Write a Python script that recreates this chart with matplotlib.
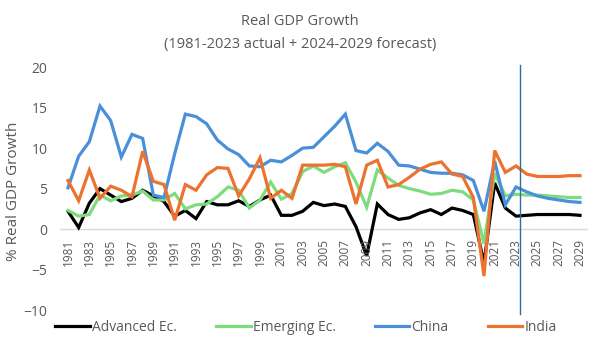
import numpy as np
import matplotlib.pyplot as plt

plt.rcParams['font.family'] = ['Open Sans', 'DejaVu Sans']

years = np.arange(1981, 2030)

advanced = [2.2, 0.2, 3.2, 5.0, 4.2, 3.4, 3.8, 4.8, 4.1, 3.4, 1.6, 2.3, 1.3, 3.4, 3.0,
            3.0, 3.5, 2.8, 3.6, 4.2, 1.7, 1.7, 2.2, 3.3, 2.9, 3.1, 2.8, 0.3, -3.3, 3.1,
            1.8, 1.2, 1.4, 2.0, 2.4, 1.8, 2.6, 2.3, 1.8, -4.2, 5.7, 2.6, 1.6, 1.7, 1.8,
            1.8, 1.8, 1.8, 1.7]
emerging = [2.3, 1.6, 1.8, 4.2, 3.5, 4.1, 4.2, 4.7, 3.6, 3.6, 4.4, 2.5, 3.0, 3.1, 4.0,
            5.2, 4.8, 2.6, 3.6, 5.8, 3.7, 4.4, 7.1, 7.8, 7.0, 7.7, 8.2, 5.8, 2.7, 7.3,
            6.3, 5.4, 5.0, 4.7, 4.3, 4.4, 4.8, 4.6, 3.6, -1.8, 6.9, 4.1, 4.3, 4.2, 4.2,
            4.1, 4.0, 3.9, 3.9]
china = [5.1, 9.0, 10.8, 15.2, 13.4, 8.9, 11.7, 11.2, 4.2, 3.9, 9.3, 14.2, 13.9, 13.0, 11.0,
         9.9, 9.2, 7.8, 7.7, 8.5, 8.3, 9.1, 10.0, 10.1, 11.4, 12.7, 14.2, 9.7, 9.4, 10.6,
         9.6, 7.9, 7.8, 7.4, 7.0, 6.9, 6.9, 6.7, 6.0, 2.2, 8.4, 3.0, 5.2, 4.6, 4.1,
         3.8, 3.6, 3.4, 3.3]
india = [6.0, 3.5, 7.3, 3.8, 5.3, 4.8, 4.0, 9.6, 5.9, 5.5, 1.1, 5.5, 4.8, 6.7, 7.6,
         7.5, 4.1, 6.2, 8.8, 3.8, 4.8, 3.8, 7.9, 7.9, 7.9, 8.0, 7.7, 3.1, 7.9, 8.5,
         5.2, 5.5, 6.4, 7.4, 8.0, 8.3, 6.8, 6.5, 3.9, -5.8, 9.7, 7.0, 7.8, 6.8, 6.5,
         6.5, 6.5, 6.6, 6.6]

series = [("Advanced Ec.", advanced, "#000000"),
          ("Emerging Ec.", emerging, "#7ddc7d"),
          ("China", china, "#4a8fd9"),
          ("India", india, "#ed7230")]

fig = plt.figure(figsize=(6, 3.48), dpi=100)
ax = fig.add_axes([0.10, 0.109, 0.88, 0.698])

for name, vals, col in series:
    ax.plot(years, vals, color=col, lw=2.3, label=name, solid_joinstyle='miter')

ax.axhline(0, color='#d9d9d9', lw=1, zorder=0)
ax.plot([2023.4, 2023.4], [-10.5, 20.3], color='#2f6f9a', lw=1, clip_on=False)

ax.set_xlim(1980.25, 2029.75)
ax.set_ylim(-10, 20)
for s in ax.spines.values():
    s.set_visible(False)

ax.set_yticks(range(-10, 21, 5))
ax.tick_params(axis='y', length=0, labelsize=10, labelcolor='#595959', pad=9)
ax.set_xticks([])
for y in years[::2]:
    ax.text(y, -1.2, str(y), rotation=90, ha='center', va='top',
            fontsize=8.5, color='#595959')

ax.set_ylabel('% Real GDP Growth', fontsize=11, color='#595959')
ax.yaxis.set_label_coords(-0.074, 0.49)

fig.text(0.5, 0.937, 'Real GDP Growth', ha='center', va='center',
         fontsize=10.5, color='#595959')
fig.text(0.5, 0.871, '(1981-2023 actual + 2024-2029 forecast)', ha='center',
         va='center', fontsize=10.5, color='#595959')

fig.legend(loc='center', bbox_to_anchor=(0.51, 0.058), ncol=4, frameon=False,
           fontsize=10, labelcolor='#595959', handlelength=2.5, handletextpad=0.15,
           columnspacing=2.8)

fig.savefig('out.png')
